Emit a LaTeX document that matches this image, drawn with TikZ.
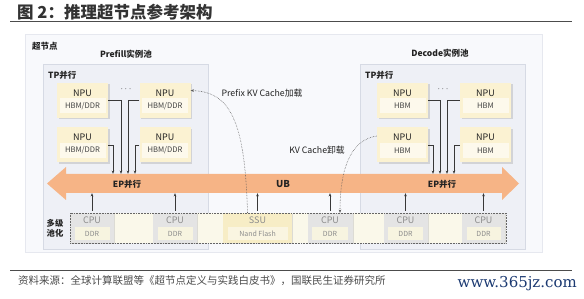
\documentclass[tikz,border=0pt]{standalone}
\usepackage{fontspec}
\setmainfont{Noto Sans CJK SC}
\newfontfamily\webfont{DejaVu Serif}
\usetikzlibrary{shadows,arrows.meta,calc}
\definecolor{frameF}{HTML}{F8F9FC}
\definecolor{frameD}{HTML}{E6E8EF}
\definecolor{poolF}{HTML}{EEF0F6}
\definecolor{poolD}{HTML}{D6DAE4}
\definecolor{npuF}{HTML}{FBF2D2}
\definecolor{npuI}{HTML}{FDF9EC}
\definecolor{cpuF}{HTML}{E4E4E4}
\definecolor{ddrF}{HTML}{F7F4E0}
\definecolor{ssuF}{HTML}{F7EDC6}
\definecolor{nandF}{HTML}{FAF5E1}
\definecolor{bandF}{HTML}{FAF8EA}
\definecolor{ubC}{HTML}{F6B486}
\definecolor{txt}{HTML}{222222}
\definecolor{grayT}{HTML}{8C8C8C}
\definecolor{webC}{HTML}{1C3A72}
\tikzset{
  boldlbl/.style={font=\bfseries\fontsize{8.5}{10}\selectfont, text=txt, inner sep=0},
  plainlbl/.style={font=\fontsize{8.8}{10}\selectfont, text=txt, inner sep=0},
  npubox/.style={rectangle, fill=npuF, minimum width=51pt, minimum height=35pt, inner sep=0,
    drop shadow={shadow xshift=1.5pt, shadow yshift=-1.5pt, fill=black!28}},
  npuin/.style={rectangle, fill=npuI, minimum width=46pt, minimum height=15pt, inner sep=0,
    font=\fontsize{7.6}{9}\selectfont, text=txt!85},
  npulbl/.style={inner sep=0, font=\fontsize{9}{10}\selectfont, text=txt},
  membox/.style={rectangle, minimum height=30pt, inner sep=0,
    drop shadow={shadow xshift=1.2pt, shadow yshift=-1.2pt, fill=black!25}},
  memin/.style={rectangle, minimum height=13pt, inner sep=0,
    font=\fontsize{7}{8}\selectfont, text=grayT},
  memlbl/.style={inner sep=0, font=\fontsize{9}{10}\selectfont, text=grayT},
  conn/.style={draw=txt!90, line width=0.6pt, -{Stealth[length=3.2pt,width=2.6pt]}},
  dotconn/.style={draw=black!65, line width=0.55pt, densely dotted, -{Stealth[length=3.2pt,width=2.6pt]}},
}
\newcommand{\mynpu}[4]{%
  \node[npubox] (#1) at (#2,#3) {};
  \node[npulbl] at ([yshift=7.5pt]#1.center) {NPU};
  \node[npuin] at ([yshift=-5.5pt]#1.center) {#4};
}
\newcommand{\mymem}[7]{%
  \node[membox, minimum width=#3pt, fill=#6] (#1) at (#2,228) {};
  \node[memlbl] at ([yshift=8pt]#1.center) {#4};
  \node[memin, minimum width=#3pt-9pt, fill=#7] at ([yshift=-5.5pt]#1.center) {#5};
}
\begin{document}
\begin{tikzpicture}[x=1pt,y=-1pt]
\useasboundingbox[fill=white] (0,0) rectangle (584,299);
% title
\node[anchor=west, inner sep=0, font=\bfseries\fontsize{16.5}{18}\selectfont, text=black!80] (title) at (17,12.5) {图 2：推理超节点参考架构};
\draw[black!70, line width=0.8pt] (10,21) -- (572,21);
% outer frame
\node[draw=frameD, fill=frameF, line width=0.5pt, minimum width=517pt, minimum height=218pt, inner sep=0] (frame) at (283.5,143) {};
\node[boldlbl, anchor=west] (supn) at (32,46) {超节点};
% pools
\node[draw=poolD, fill=poolF, line width=0.6pt, minimum width=165pt, minimum height=185pt, inner sep=0] (ppool) at (125.5,156.5) {};
\node[draw=poolD, fill=poolF, line width=0.6pt, minimum width=165pt, minimum height=185pt, inner sep=0] (dpool) at (442.5,156.5) {};
\node[boldlbl] (plbl) at (126,54) {Prefill实例池};
\node[boldlbl] (dlbl) at (440,53) {Decode实例池};
\node[boldlbl, anchor=west] (ptp) at (48,75) {TP并行};
\node[boldlbl, anchor=west] (dtp) at (365,75) {TP并行};
% NPUs
\mynpu{P1}{82.5}{100.5}{HBM/DDR}
\mynpu{P2}{165}{100.5}{HBM/DDR}
\mynpu{P3}{82.5}{145}{HBM/DDR}
\mynpu{P4}{165}{145}{HBM/DDR}
\mynpu{D1}{402.5}{100.5}{HBM}
\mynpu{D2}{485.5}{100.5}{HBM}
\mynpu{D3}{402.5}{145}{HBM}
\mynpu{D4}{485.5}{145}{HBM}
\node[npulbl, font=\fontsize{9}{10}\selectfont] (pdots) at (126,89) {$\cdots$};
\node[npulbl, font=\fontsize{9}{10}\selectfont] (ddots) at (443,89) {$\cdots$};
% UB arrow
\fill[ubC] (47,183.5) -- (66,167) -- (66,174) -- (502,174) -- (502,167) -- (519,183.5) -- (502,200) -- (502,193) -- (66,193) -- (66,200) -- cycle;
\node[minimum width=436pt, minimum height=19pt, inner sep=0] (ub) at (284,183.5) {};
\node[boldlbl] (ep1) at (127,184) {EP并行};
\node[boldlbl, font=\bfseries\fontsize{9.5}{10}\selectfont] (ubl) at (283,184) {UB};
\node[boldlbl] (ep2) at (442,184) {EP并行};
% lanes
\coordinate (la) at (113,0);
\coordinate (lb) at (121,0);
\coordinate (lc) at (128,0);
\coordinate (ld) at (135,0);
\coordinate (le) at (433,0);
\coordinate (lf) at (440,0);
\coordinate (lg) at (447,0);
\coordinate (lh) at (454,0);
\draw[conn] (P3.east) -| (la |- ub.north);
\draw[conn] (P1.east) -| (lb |- ub.north);
\draw[conn] (P2.west) -| (lc |- ub.north);
\draw[conn] (P4.west) -| (ld |- ub.north);
\draw[conn] (D3.east) -| (le |- ub.north);
\draw[conn] (D1.east) -| (lf |- ub.north);
\draw[conn] (D2.west) -| (lg |- ub.north);
\draw[conn] (D4.west) -| (lh |- ub.north);
% memory pool band
\fill[bandF] (70,213) rectangle (506,243);
\mymem{C1}{92}{44}{CPU}{DDR}{cpuF}{ddrF}
\mymem{C2}{175}{44}{CPU}{DDR}{cpuF}{ddrF}
\mymem{S1}{257.5}{69}{SSU}{Nand Flash}{ssuF}{nandF}
\mymem{C3}{330}{45}{CPU}{DDR}{cpuF}{ddrF}
\mymem{C4}{405.5}{44}{CPU}{DDR}{cpuF}{ddrF}
\mymem{C5}{483.5}{43}{CPU}{DDR}{cpuF}{ddrF}
\node[draw=black!60, densely dotted, line width=0.55pt, minimum width=436pt, minimum height=30pt, inner sep=0] (band) at (288,228) {};
\node[boldlbl, align=center, font=\bfseries\fontsize{8.3}{10}\selectfont] (mlbl) at (55,228) {多级\\池化};
\foreach \m in {C1,C2,S1,C3,C4,C5}{
  \draw[conn] ([yshift=2pt]\m.north) -- (\m.north |- ub.south);
}
% dotted KV cache paths
\draw[dotconn] ([xshift=-10pt]S1.north) .. controls (245,120) and (230,92) .. ([yshift=10pt]P2.east);
\draw[dotconn] ([yshift=9pt]D3.west) .. controls (350,140) and (340,170) .. ([xshift=10pt]C3.north);
\node[plainlbl] (kv1) at (262,93) {Prefix KV Cache加载};
\node[plainlbl] (kv2) at (317,150) {KV Cache卸载};
% footer
\draw[black!70, line width=0.8pt] (10,270) -- (572,270);
\node[anchor=west, inner sep=0, font=\fontsize{10.5}{12}\selectfont, text=black!70] (src) at (18,281) {资料来源：全球计算联盟等《超节点定义与实践白皮书》，国联民生证券研究所};
\node[anchor=east, inner sep=0, font=\webfont\fontsize{15}{16}\selectfont, text=webC] (web) at (577,284) {www.365jz.com};
\end{tikzpicture}
\end{document}
